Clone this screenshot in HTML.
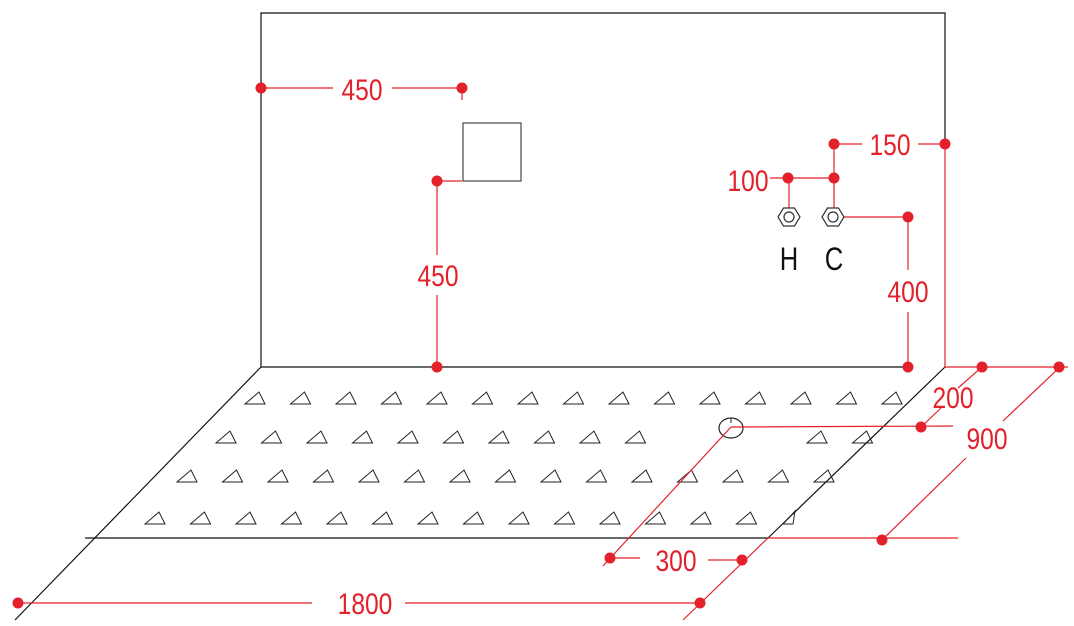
<!DOCTYPE html>
<html><head><meta charset="utf-8"><style>
html,body{margin:0;padding:0;background:#fff;}
svg{display:block}
.r{stroke:#e3212b;stroke-width:1.2;fill:none}
.k{stroke:#111;stroke-width:1.2;fill:none}
.t{font-family:"Liberation Sans",sans-serif;font-size:30px;fill:#e3212b;text-anchor:middle}
.h{font-family:"Liberation Sans",sans-serif;font-size:32px;fill:#111;text-anchor:middle}
circle.d{fill:#e3212b}
</style></head><body>
<svg width="1074" height="626" viewBox="0 0 1074 626" xmlns="http://www.w3.org/2000/svg">
<defs>
<path id="tr" d="M0,0 L20,0 L14,-12 Z" fill="none" stroke="#222" stroke-width="1"/>
<g id="hex"><polygon points="-11,0 -5.5,-9 5.5,-9 11,0 5.5,9 -5.5,9" fill="#fff" stroke="#333" stroke-width="1.2"/><circle r="5" fill="none" stroke="#333" stroke-width="1.2"/></g>
</defs>
<!-- back wall -->
<polyline class="k" points="261,367 261,13 945,13 945,144"/>
<line class="k" x1="261" y1="367" x2="908" y2="367"/>
<!-- tray -->
<line class="k" x1="261" y1="367" x2="15" y2="620"/>
<line class="k" x1="945" y1="367" x2="768" y2="538"/>
<line class="k" x1="85" y1="538" x2="768" y2="538"/>
<!-- triangles -->
<g>
<use href="#tr" x="245" y="404"/><use href="#tr" x="290.5" y="404"/><use href="#tr" x="336" y="404"/><use href="#tr" x="381.5" y="404"/><use href="#tr" x="427" y="404"/><use href="#tr" x="472.5" y="404"/><use href="#tr" x="518" y="404"/><use href="#tr" x="563.5" y="404"/><use href="#tr" x="609" y="404"/><use href="#tr" x="654.5" y="404"/><use href="#tr" x="700" y="404"/><use href="#tr" x="745.5" y="404"/><use href="#tr" x="791" y="404"/><use href="#tr" x="836.5" y="404"/><use href="#tr" x="882" y="404"/>
<use href="#tr" x="216" y="443"/><use href="#tr" x="261.5" y="443"/><use href="#tr" x="307" y="443"/><use href="#tr" x="352.5" y="443"/><use href="#tr" x="398" y="443"/><use href="#tr" x="443.5" y="443"/><use href="#tr" x="489" y="443"/><use href="#tr" x="534.5" y="443"/><use href="#tr" x="580" y="443"/><use href="#tr" x="625.5" y="443"/><use href="#tr" x="807" y="443"/><use href="#tr" x="852.5" y="443"/>
<use href="#tr" x="177" y="482"/><use href="#tr" x="222.5" y="482"/><use href="#tr" x="268" y="482"/><use href="#tr" x="313.5" y="482"/><use href="#tr" x="359" y="482"/><use href="#tr" x="404.5" y="482"/><use href="#tr" x="450" y="482"/><use href="#tr" x="495.5" y="482"/><use href="#tr" x="541" y="482"/><use href="#tr" x="586.5" y="482"/><use href="#tr" x="632" y="482"/><use href="#tr" x="677.5" y="482"/><use href="#tr" x="723" y="482"/><use href="#tr" x="768.5" y="482"/><use href="#tr" x="814" y="482"/>
<use href="#tr" x="145" y="524"/><use href="#tr" x="190.5" y="524"/><use href="#tr" x="236" y="524"/><use href="#tr" x="281.5" y="524"/><use href="#tr" x="327" y="524"/><use href="#tr" x="372.5" y="524"/><use href="#tr" x="418" y="524"/><use href="#tr" x="463.5" y="524"/><use href="#tr" x="509" y="524"/><use href="#tr" x="554.5" y="524"/><use href="#tr" x="600" y="524"/><use href="#tr" x="645.5" y="524"/><use href="#tr" x="691" y="524"/><use href="#tr" x="736.5" y="524"/>
<path d="M783,524 L793,524 L795,511 Z" fill="none" stroke="#222" stroke-width="1"/>
</g>
<!-- drain -->
<ellipse cx="731" cy="428" rx="12" ry="10" fill="none" stroke="#222" stroke-width="1.2"/>
<line x1="731" y1="418" x2="731" y2="423" stroke="#222" stroke-width="1"/>
<!-- square -->
<rect x="463" y="123" width="58" height="58" fill="none" stroke="#222" stroke-width="1"/>
<!-- red dims top -->
<line class="r" x1="261" y1="88" x2="333" y2="88"/>
<line class="r" x1="392" y1="88" x2="462" y2="88"/>
<line class="r" x1="462" y1="88" x2="462" y2="100"/>
<text class="t" transform="translate(362,100) scale(0.82,1)">450</text>
<line class="r" x1="437" y1="181" x2="462" y2="181"/>
<line class="r" x1="437" y1="181" x2="437" y2="255"/>
<line class="r" x1="437" y1="295" x2="437" y2="367"/>
<text class="t" transform="translate(438,286) scale(0.82,1)">450</text>
<!-- right wall dims -->
<line class="r" x1="945" y1="144" x2="945" y2="367"/>
<line class="r" x1="918" y1="144" x2="945" y2="144"/>
<line class="r" x1="834" y1="144" x2="862" y2="144"/>
<text class="t" transform="translate(890,155) scale(0.82,1)">150</text>
<line class="r" x1="834" y1="144" x2="834" y2="210"/>
<line class="r" x1="770" y1="178" x2="834" y2="178"/>
<text class="t" transform="translate(748,191) scale(0.82,1)">100</text>
<line class="r" x1="789" y1="178" x2="789" y2="210"/>
<line class="r" x1="833" y1="217" x2="908" y2="217"/>
<line class="r" x1="908" y1="217" x2="908" y2="270"/>
<line class="r" x1="908" y1="312" x2="908" y2="367"/>
<text class="t" transform="translate(908,302) scale(0.82,1)">400</text>
<use href="#hex" x="789" y="217"/>
<use href="#hex" x="833" y="217"/>
<text class="h" transform="translate(789,270) scale(0.8,1)">H</text>
<text class="h" transform="translate(834,270) scale(0.8,1)">C</text>
<!-- floor dims -->
<line class="r" x1="945" y1="367" x2="1068" y2="367"/>
<line class="r" x1="982" y1="367" x2="958" y2="388"/>
<line class="r" x1="941" y1="408" x2="921" y2="427"/>
<text class="t" transform="translate(953,408) scale(0.82,1)">200</text>
<line class="r" x1="731" y1="427" x2="953" y2="426"/>
<line class="r" x1="1060" y1="367" x2="1003" y2="421"/>
<line class="r" x1="966" y1="458" x2="882" y2="540"/>
<text class="t" transform="translate(987,449) scale(0.82,1)">900</text>
<line class="r" x1="768" y1="538" x2="958" y2="538"/>
<line class="r" x1="768" y1="538" x2="683" y2="620"/>
<line class="r" x1="731" y1="427" x2="603" y2="566"/>
<line class="r" x1="610" y1="558" x2="640" y2="558"/>
<line class="r" x1="708" y1="560" x2="742" y2="560"/>
<text class="t" transform="translate(676,571) scale(0.82,1)">300</text>
<line class="r" x1="18" y1="603" x2="312" y2="603"/>
<line class="r" x1="405" y1="603" x2="700" y2="603"/>
<text class="t" transform="translate(365,614) scale(0.82,1)">1800</text>
<!-- dots -->
<g>
<circle class="d" cx="261" cy="88" r="5.5"/><circle class="d" cx="462" cy="88" r="5.5"/>
<circle class="d" cx="437" cy="181" r="5.5"/><circle class="d" cx="437" cy="367" r="5.5"/>
<circle class="d" cx="945" cy="144" r="5.5"/><circle class="d" cx="834" cy="144" r="5.5"/>
<circle class="d" cx="834" cy="178" r="5.5"/><circle class="d" cx="788" cy="178" r="5.5"/>
<circle class="d" cx="908" cy="217" r="5.5"/><circle class="d" cx="908" cy="367" r="5.5"/>
<circle class="d" cx="982" cy="367" r="5.5"/><circle class="d" cx="1059" cy="367" r="5.5"/>
<circle class="d" cx="921" cy="427" r="5.5"/><circle class="d" cx="882" cy="540" r="5.5"/>
<circle class="d" cx="610" cy="558" r="5.5"/><circle class="d" cx="742" cy="560" r="5.5"/>
<circle class="d" cx="700" cy="603" r="5.5"/><circle class="d" cx="18" cy="603" r="5.5"/>
</g>
</svg>
</body></html>
